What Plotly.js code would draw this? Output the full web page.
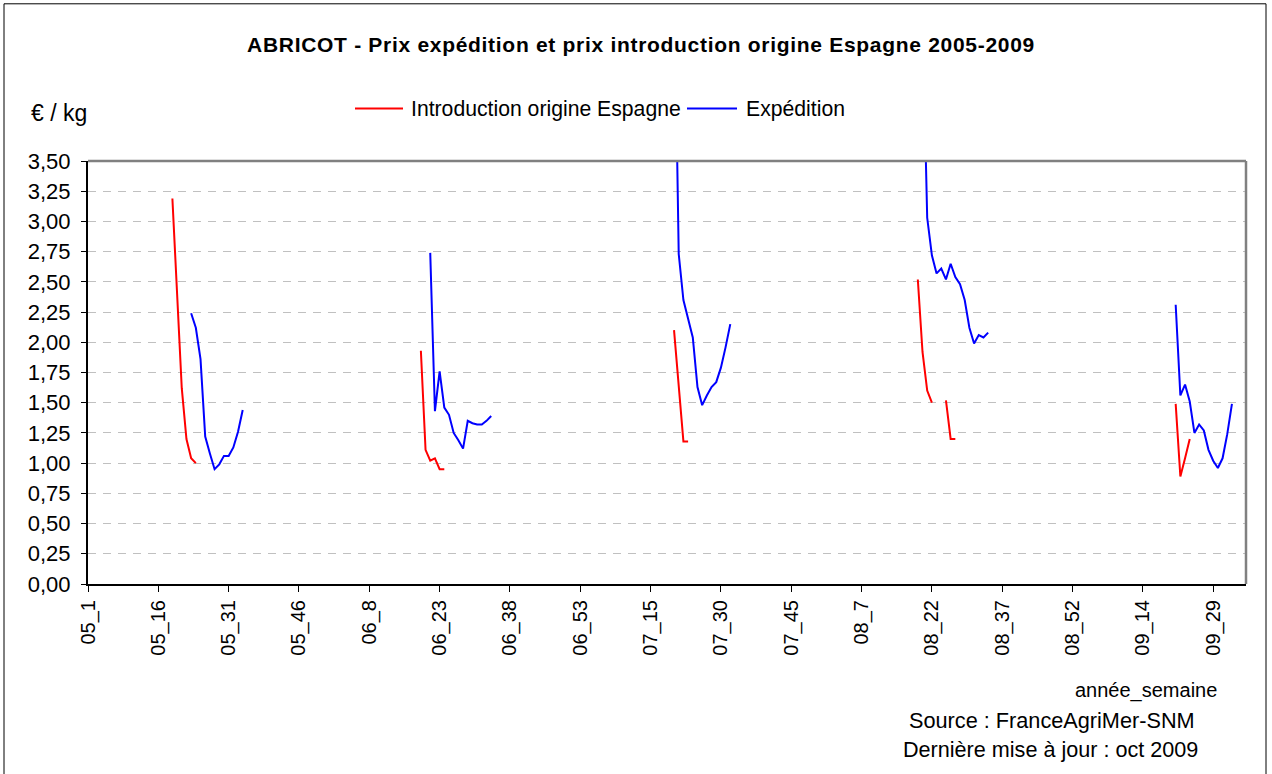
<!DOCTYPE html>
<html>
<head>
<meta charset="utf-8">
<script src="https://cdn.plot.ly/plotly-3.0.1.min.js"></script>
<style>
  html, body { margin: 0; padding: 0; background: #ffffff; }
  #chart { width: 1272px; height: 774px; }
  #chart .gtitle { letter-spacing: 0.7px; }
</style>
</head>
<body>
<div id="chart"></div>
<script>
// ---------- DATA ----------
const yearPrefixes = ['05', '06', '07', '08', '09'];
const weeksPerYear = [53, 53, 53, 53, 36];
const tickStep = 15;

// Introduction origine Espagne (€/kg): segment start weeks and values
const introStarts = ['05_19', '06_19', '07_20', '08_19', '08_25', '09_21'];
const intro2005 = [3.19, 2.45, 1.62, 1.20, 1.04, 1.00];
const intro2006 = [1.93, 1.11, 1.02, 1.04, 0.95, 0.95];
const intro2007 = [2.10, 1.60, 1.18, 1.18];
const intro2008a = [2.52, 1.92, 1.60, 1.50];
const intro2008b = [1.52, 1.20, 1.20];
const intro2009 = [1.49, 0.89, 1.04, 1.20];

// Expédition (€/kg)
const expStarts = ['05_23', '06_21', '07_20', '08_20', '09_21'];
const exp2005 = [2.24, 2.12, 1.86, 1.22, 1.08, 0.95, 0.99, 1.06, 1.06, 1.13, 1.26, 1.44];
const exp2006 = [2.74, 1.43, 1.76, 1.46, 1.40, 1.25, 1.19, 1.12, 1.35, 1.33, 1.32, 1.32, 1.35, 1.39];
const exp2007 = [5.15, 2.73, 2.35, 2.19, 2.04, 1.63, 1.48, 1.56, 1.63, 1.67, 1.79, 1.96, 2.15];
const exp2008 = [4.70, 3.03, 2.72, 2.57, 2.61, 2.52, 2.65, 2.54, 2.48, 2.35, 2.12, 1.99, 2.06, 2.04, 2.08];
const exp2009 = [2.31, 1.56, 1.65, 1.51, 1.25, 1.32, 1.27, 1.11, 1.02, 0.96, 1.04, 1.24, 1.49];

const seriesNames = ['Introduction origine Espagne', 'Expédition'];
const seriesColors = ['#FF0000', '#0000FF'];

// ---------- BUILD ----------
const categories = [];
yearPrefixes.forEach((yy, k) => {
  for (let w = 1; w <= weeksPerYear[k]; w++) categories.push(yy + '_' + w);
});
const tickLabels = categories.filter((c, i) => i % tickStep === 0);

function buildSeries(starts, segments) {
  const y = categories.map(() => null);
  starts.forEach((s, j) => {
    const i0 = categories.indexOf(s);
    segments[j].forEach((v, k) => { y[i0 + k] = v; });
  });
  return y;
}
const introY = buildSeries(introStarts, [intro2005, intro2006, intro2007, intro2008a, intro2008b, intro2009]);
const expY = buildSeries(expStarts, [exp2005, exp2006, exp2007, exp2008, exp2009]);

// ---------- LAYOUT GEOMETRY ----------
const W = 1272, H = 774;
const PL = 88, PR = 1246, PT = 160.5, PB = 584.3;
const px = x => (x - PL) / (PR - PL);
const py = y => (PB - y) / (PB - PT);
const FONT = 'Liberation Sans, Arial, Helvetica, sans-serif';

const traces = [
  { x: categories, y: introY, type: 'scatter', mode: 'lines', name: seriesNames[0],
    line: { color: seriesColors[0], width: 2 }, connectgaps: false, hoverinfo: 'x+y' },
  { x: categories, y: expY, type: 'scatter', mode: 'lines', name: seriesNames[1],
    line: { color: seriesColors[1], width: 2 }, connectgaps: false, hoverinfo: 'x+y' }
];

// legend drawn as shapes + text (Excel-style long line samples)
const legendY = 108;
const legendItems = [
  { lineX0: 355, lineX1: 403, textX: 409 },
  { lineX0: 687, lineX1: 737, textX: 744 }
];
const legendShapes = legendItems.map((it, i) => ({
  type: 'line', xref: 'paper', yref: 'paper',
  x0: px(it.lineX0), x1: px(it.lineX1), y0: py(legendY), y1: py(legendY),
  line: { color: seriesColors[i], width: 2 }, layer: 'above'
}));
const legendTexts = legendItems.map((it, i) => ({
  text: seriesNames[i], xref: 'paper', yref: 'paper', x: px(it.textX), y: py(legendY),
  xanchor: 'left', yanchor: 'middle', showarrow: false,
  font: { family: FONT, size: 21.2, color: '#000000' }
}));

const layout = {
  width: W, height: H,
  paper_bgcolor: '#ffffff', plot_bgcolor: '#ffffff',
  font: { family: FONT, size: 20, color: '#000000' },
  separators: ', ',
  margin: { l: PL, r: W - PR, t: PT, b: H - PB, pad: 0 },
  title: {
    text: 'ABRICOT - Prix expédition et prix introduction origine Espagne 2005-2009',
    font: { family: FONT, size: 21, color: '#000000', weight: 'bold' },
    x: 641 / W, xref: 'container', xanchor: 'center',
    y: 1 - 45 / H, yref: 'container', yanchor: 'middle'
  },
  showlegend: false,
  xaxis: {
    type: 'category', categoryorder: 'array', categoryarray: categories,
    range: [0, categories.length - 1],
    tickmode: 'array', tickvals: tickLabels, ticktext: tickLabels,
    tickangle: -90, ticks: 'outside', ticklen: 6, tickwidth: 1, tickcolor: '#000000',
    tickfont: { family: FONT, size: 20, color: '#000000' },
    showgrid: false, zeroline: false,
    showline: true, linecolor: '#000000', linewidth: 2,
    fixedrange: true
  },
  yaxis: {
    range: [0, 3.5], tickmode: 'linear', tick0: 0, dtick: 0.25, tickformat: '.2f',
    ticks: 'outside', ticklen: 5, tickwidth: 1, tickcolor: '#000000',
    tickfont: { family: FONT, size: 22, color: '#000000' },
    ticklabelstandoff: 6,
    showgrid: true, gridcolor: '#c0c0c0', gridwidth: 1, griddash: '8px,7px',
    zeroline: false, showline: true, linecolor: '#000000', linewidth: 2,
    fixedrange: true
  },
  shapes: [
    // plot-area border (top and right, grey)
    { type: 'line', xref: 'paper', yref: 'paper', x0: 0, x1: 1, y0: 1, y1: 1,
      line: { color: '#808080', width: 2.5 }, layer: 'above' },
    { type: 'line', xref: 'paper', yref: 'paper', x0: 1, x1: 1, y0: 0, y1: 1,
      line: { color: '#808080', width: 2.5 }, layer: 'above' },
    // outer chart frame
    { type: 'rect', xref: 'paper', yref: 'paper',
      x0: px(4), x1: px(1266), y0: py(790), y1: py(3),
      line: { color: '#000000', width: 1 }, fillcolor: 'rgba(0,0,0,0)', layer: 'below' }
  ].concat(legendShapes),
  annotations: [
    { text: '€ / kg', xref: 'paper', yref: 'paper', x: px(29), y: py(112),
      xanchor: 'left', yanchor: 'middle', showarrow: false,
      font: { family: FONT, size: 23, color: '#000000' } },
    { text: 'année_semaine', xref: 'paper', yref: 'paper', x: px(1219), y: py(691),
      xanchor: 'right', yanchor: 'middle', showarrow: false,
      font: { family: FONT, size: 20, color: '#000000' } },
    { text: 'Source : FranceAgriMer-SNM', xref: 'paper', yref: 'paper', x: px(1197), y: py(721),
      xanchor: 'right', yanchor: 'middle', showarrow: false,
      font: { family: FONT, size: 21.7, color: '#000000' } },
    { text: 'Dernière mise à jour : oct 2009', xref: 'paper', yref: 'paper', x: px(1200), y: py(750),
      xanchor: 'right', yanchor: 'middle', showarrow: false,
      font: { family: FONT, size: 21.6, color: '#000000' } }
  ].concat(legendTexts)
};

Plotly.newPlot('chart', traces, layout, { staticPlot: true, displayModeBar: false });
</script>
</body>
</html>
